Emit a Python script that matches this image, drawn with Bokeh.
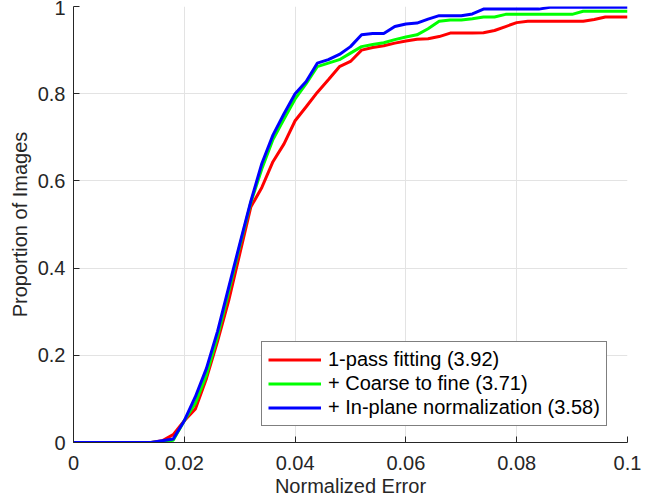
from bokeh.plotting import figure
from bokeh.models import FixedTicker, Range1d, Legend, LegendItem
from bokeh.embed import file_html
from bokeh.resources import INLINE

# ---- data ----
x_err = [0.000, 0.002, 0.004, 0.006, 0.008, 0.010, 0.012, 0.014, 0.016, 0.018,
         0.020, 0.022, 0.024, 0.026, 0.028, 0.030, 0.032, 0.034, 0.036, 0.038,
         0.040, 0.042, 0.044, 0.046, 0.048, 0.050, 0.052, 0.054, 0.056, 0.058,
         0.060, 0.062, 0.064, 0.066, 0.068, 0.070, 0.072, 0.074, 0.076, 0.078,
         0.080, 0.082, 0.084, 0.086, 0.088, 0.090, 0.092, 0.094, 0.096, 0.098,
         0.100]

one_pass = [0, 0, 0, 0, 0, 0, 0, 0, 0.004, 0.018,
            0.05, 0.077, 0.147, 0.232, 0.325, 0.432, 0.54, 0.585, 0.644, 0.685,
            0.738, 0.77, 0.803, 0.832, 0.862, 0.874, 0.90, 0.906, 0.91, 0.916,
            0.921, 0.925, 0.926, 0.931, 0.939, 0.939, 0.939, 0.94, 0.945, 0.954,
            0.963, 0.966, 0.966, 0.966, 0.966, 0.966, 0.966, 0.97, 0.976, 0.976,
            0.976]

coarse_fine = [0, 0, 0, 0, 0, 0, 0, 0, 0.002, 0.005,
               0.05, 0.09, 0.155, 0.243, 0.345, 0.45, 0.55, 0.628, 0.695, 0.742,
               0.788, 0.823, 0.862, 0.87, 0.878, 0.893, 0.908, 0.913, 0.917, 0.924,
               0.93, 0.935, 0.949, 0.966, 0.969, 0.969, 0.972, 0.976, 0.976, 0.982,
               0.982, 0.982, 0.982, 0.982, 0.982, 0.982, 0.989, 0.989, 0.989, 0.989,
               0.989]

inplane = [0, 0, 0, 0, 0, 0, 0, 0, 0.004, 0.008,
           0.05, 0.105, 0.17, 0.255, 0.355, 0.455, 0.553, 0.64, 0.705, 0.754,
           0.80, 0.828, 0.87, 0.878, 0.89, 0.908, 0.935, 0.938, 0.938, 0.954,
           0.96, 0.962, 0.971, 0.979, 0.979, 0.979, 0.983, 0.994, 0.994, 0.994,
           0.994, 0.994, 0.994, 0.998, 0.998, 0.998, 0.998, 0.998, 0.998, 0.998,
           0.998]

series_labels = ["1-pass fitting (3.92)", "+ Coarse to fine (3.71)",
                 "+ In-plane normalization (3.58)"]
series_colors = ["#ff0000", "#00ff00", "#0000ff"]

x_ticks = [0, 0.02, 0.04, 0.06, 0.08, 0.1]
x_tick_labels = ["0", "0.02", "0.04", "0.06", "0.08", "0.1"]
y_ticks = [0, 0.2, 0.4, 0.6, 0.8, 1]
y_tick_labels = ["0", "0.2", "0.4", "0.6", "0.8", "1"]

FONT = "Liberation Sans"
AX = "#262626"

p = figure(width=650, height=500, output_backend="svg", toolbar_location=None,
           x_range=Range1d(0, 0.1), y_range=Range1d(0, 1),
           min_border_left=73, min_border_right=23, min_border_top=6,
           min_border_bottom=58)
p.outline_line_color = None
p.background_fill_color = "white"
p.border_fill_color = "white"

series = [one_pass, coarse_fine, inplane]
renderers = []
for ys, c in zip(series, series_colors):
    r = p.line(x_err, ys, line_color=c, line_width=3)
    renderers.append(r)

p.xaxis.ticker = FixedTicker(ticks=x_ticks)
p.yaxis.ticker = FixedTicker(ticks=y_ticks)
p.xaxis.major_label_overrides = {t: l for t, l in zip(x_ticks, x_tick_labels)}
p.yaxis.major_label_overrides = {t: l for t, l in zip(y_ticks, y_tick_labels)}

for ax in (p.xaxis[0], p.yaxis[0]):
    ax.axis_line_color = AX
    ax.axis_line_width = 1
    ax.major_tick_line_color = AX
    ax.major_tick_in = 6
    ax.major_tick_out = 0
    ax.minor_tick_line_color = None
    ax.major_label_text_font = FONT
    ax.major_label_text_font_size = "20px"
    ax.major_label_text_color = AX
    ax.axis_label_text_font = FONT
    ax.axis_label_text_font_size = "20px"
    ax.axis_label_text_font_style = "normal"
    ax.axis_label_text_color = AX

p.xaxis.axis_label = "Normalized Error"
p.yaxis.axis_label = "Proportion of Images"
p.xaxis.major_label_standoff = 13
p.yaxis.major_label_standoff = 8
p.xaxis.axis_label_standoff = 2
p.yaxis.axis_label_standoff = 4

p.xgrid.grid_line_color = "#e3e3e3"
p.ygrid.grid_line_color = "#e3e3e3"
p.xgrid.grid_line_width = 1
p.ygrid.grid_line_width = 1

legend = Legend(items=[LegendItem(label=l, renderers=[r])
                       for l, r in zip(series_labels, renderers)],
                location=(188, 16))
legend.label_text_font = FONT
legend.label_text_font_size = "20px"
legend.label_text_color = "#000000"
legend.glyph_width = 53
legend.glyph_height = 23
legend.label_height = 23
legend.label_standoff = 7
legend.padding = 6
legend.spacing = 1
legend.margin = 0
legend.border_line_color = "#000000"
legend.border_line_width = 1
legend.background_fill_color = "white"
legend.background_fill_alpha = 1
p.add_layout(legend, "center")

open("out.html", "w").write(file_html(p, INLINE))
